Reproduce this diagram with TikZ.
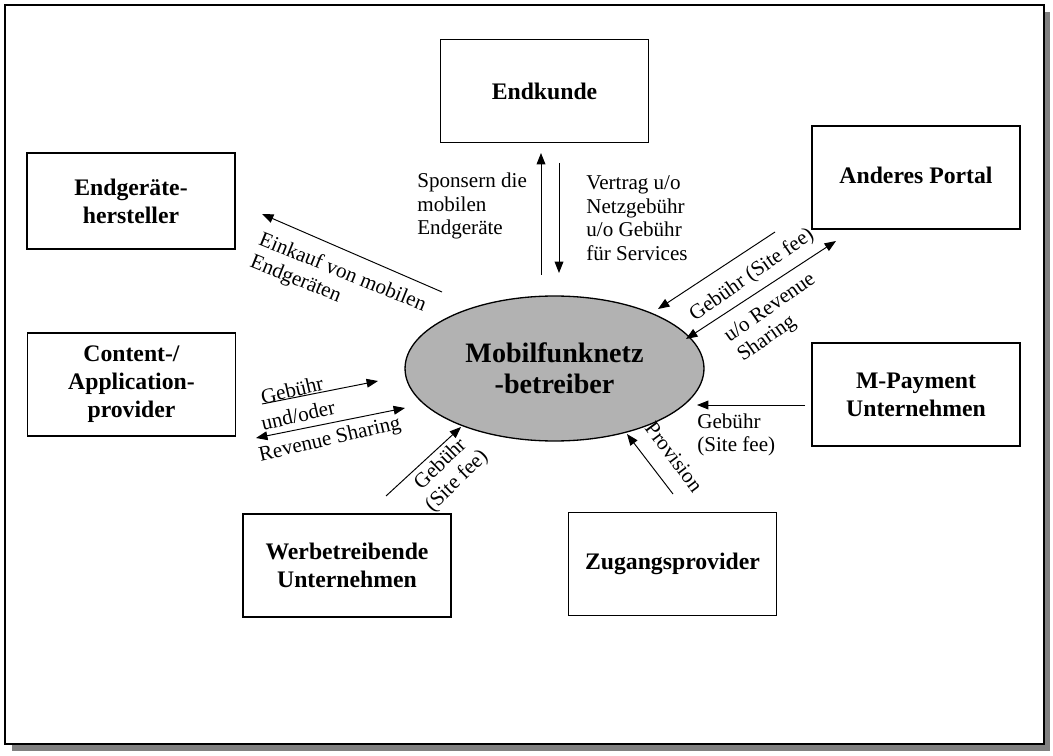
\documentclass[tikz,border=0pt]{standalone}
\usepackage{fontspec}
\setmainfont{Liberation Serif}
\usetikzlibrary{positioning, shapes, arrows, arrows.meta, shapes.geometric}
\tikzset{>={Triangle[length=6.5pt, width=5pt]}}

\tikzset{
    akteur/.style={draw, line width=0.75pt, align=center, minimum width=4.16cm, minimum height=2.06cm,
        inner sep=2pt, font=\fontsize{13.5}{16}\selectfont\bfseries},
    mitte/.style={ellipse, draw, fill=black!30, line width=0.75pt, align=center, minimum width=5.98cm,
        minimum height=2.9cm, font=\fontsize{16}{17.5}\selectfont\bfseries},
    zahlung/.style={->, line width=0.55pt},
    beschr/.style={inner sep=0pt, font=\fontsize{12}{13.4}\selectfont},
}

\begin{document}
\begin{tikzpicture}[x=0.02cm, y=-0.02cm]
    \useasboundingbox (0,0) rectangle (1053,756);
    % page with shadow
    \fill[black!50] (12,12) rectangle (1050,751);
    \draw[fill=white, line width=0.8pt] (5,5) rectangle (1044,744);

    \node[mitte] (betreiber) at (554.5,368.5) {Mobilfunknetz\\-betreiber};

    \node[akteur] (kunde) at (544.5,91) {Endkunde};
    \node[akteur, minimum height=1.92cm] (hersteller) at (131,201) {Endgeräte-\\hersteller};
    \node[akteur] (portal) at (916,177.5) {\raisebox{2.8pt}{Anderes Portal}};
    \node[akteur] (content) at (131.5,384.5) {Content-/\\Application-\\provider};
    \node[akteur] (payment) at (916,394.5) {M-Payment\\Unternehmen};
    \node[akteur] (werbung) at (347,565.5) {Werbetreibende\\Unternehmen};
    \node[akteur] (zugang) at (672.5,564) {Zugangsprovider};

    % arrow ends
    \coordinate (EK1) at (541,275);
    \coordinate (EK2) at (541,153);
    \coordinate (EK3) at (559,163);
    \coordinate (EK4) at (559,273);
    \coordinate (EH1) at (442,292);
    \coordinate (EH2) at (262,214);
    \coordinate (AP1) at (775,232);
    \coordinate (AP2) at (658,309);
    \coordinate (AP3) at (686,339);
    \coordinate (AP4) at (836,241);
    \coordinate (CA1) at (262,404);
    \coordinate (CA2) at (378,381);
    \coordinate (CA3) at (256,438);
    \coordinate (CA4) at (405,408);
    \coordinate (MP1) at (805,405);
    \coordinate (MP2) at (697,405);
    \coordinate (WU1) at (386,496);
    \coordinate (WU2) at (461,427);
    \coordinate (ZP1) at (673,494);
    \coordinate (ZP2) at (627,434);

    \draw[zahlung] (EK1) -- (EK2);
    \draw[zahlung] (EK3) -- (EK4);
    \draw[zahlung] (EH1) -- (EH2);
    \draw[zahlung] (AP1) -- (AP2);
    \draw[zahlung, <->] (AP3) -- (AP4);
    \draw[zahlung] (CA1) -- (CA2);
    \draw[zahlung, <->] (CA3) -- (CA4);
    \draw[zahlung] (MP1) -- (MP2);
    \draw[zahlung] (WU1) -- (WU2);
    \draw[zahlung] (ZP1) -- (ZP2);

    % labels
    \node[beschr, align=left, anchor=west] (t_sponsor) at (417,206) {Sponsern die\\mobilen\\Endgeräte};
    \node[beschr, align=left, anchor=west] (t_vertrag) at (586,218) {Vertrag u/o\\Netzgebühr\\u/o Gebühr\\für Services};
    \node[beschr, align=left, rotate=-22] (t_einkauf) at (338,284) {Einkauf von mobilen\\Endgeräten};
    \node[beschr, rotate=35] (t_site) at (752,275) {Gebühr (Site fee)};
    \node[beschr, align=left, rotate=35] (t_revenue) at (777,318) {u/o Revenue\\Sharing};
    \node[beschr, rotate=13] (t_gebuehr) at (292,390) {Gebühr};
    \node[beschr, rotate=13] (t_oder) at (298,415) {und/oder};
    \node[beschr, rotate=13] (t_sharing) at (330,440) {Revenue Sharing};
    \node[beschr, align=left, anchor=west] (t_payment) at (697,435) {Gebühr\\(Site fee)};
    \node[beschr, align=center, rotate=44] (t_werbung) at (449,473) {Gebühr\\(Site fee)};
    \node[beschr, rotate=-53] (t_provision) at (674,457) {Provision};
\end{tikzpicture}
\end{document}
